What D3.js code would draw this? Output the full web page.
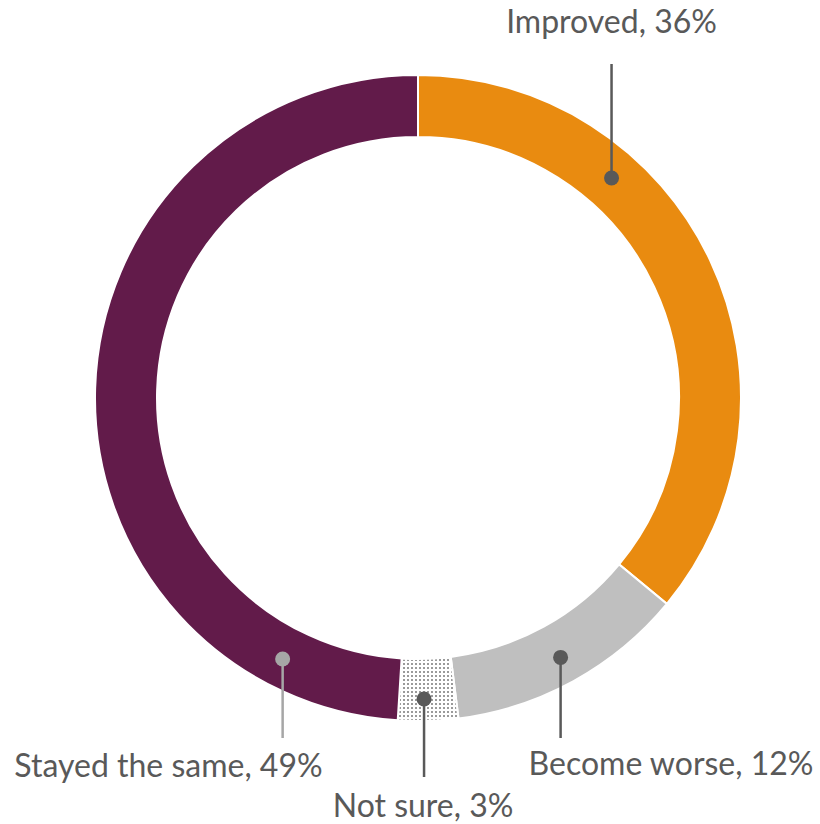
<!DOCTYPE html>
<html>
<head>
<meta charset="utf-8">
<script src="https://cdn.jsdelivr.net/npm/d3@7"></script>
<style>
  html, body { margin: 0; padding: 0; background: #ffffff; }
  svg { display: block; }
  text { font-family: Lato, "Open Sans", sans-serif; }
</style>
</head>
<body>
<svg id="chart" width="820" height="824"></svg>
<script>
// Survey answers, clockwise from 12 o'clock
const categories = ["Improved", "Become worse", "Not sure", "Stayed the same"];
const values = [36, 12, 3, 49];
const labels = ["Improved, 36%", "Become worse, 12%", "Not sure, 3%", "Stayed the same, 49%"];

// Styling and label layout
const fills = ["#e98b10", "#bfbfbf", "url(#dots)", "#621b4a"];
const leaderColors = ["#595959", "#595959", "#595959", "#a6a6a6"];
const anchorFrac = [0.319, 0.5, 0.56, 0.135];   // where along each slice the leader starts
const anchorRadius = [293, 296, 301, 294];
const leaderEndY = [64, 738, 777, 738];
const labelY = [33, 775, 817, 777];
const labelAnchor = ["middle", "start", "middle", "end"];
const labelDx = [0, -32, -1, 40];

const width = 820, height = 824;
const cx = 418, cy = 398;
const innerR = 261, outerR = 323;

const svg = d3.select("#chart");

const defs = svg.append("defs");
const pat = defs.append("pattern")
  .attr("id", "dots")
  .attr("patternUnits", "userSpaceOnUse")
  .attr("width", 4).attr("height", 4);
pat.append("rect").attr("width", 4).attr("height", 4).attr("fill", "#ffffff");
pat.append("rect").attr("x", 1).attr("y", 1).attr("width", 2).attr("height", 2).attr("fill", "#9a9a9a");

const data = categories.map((c, i) => ({ category: c, value: values[i], i }));

const pie = d3.pie().sort(null).value(d => d.value).startAngle(0).endAngle(2 * Math.PI);
const arcs = pie(data);

const arc = d3.arc().innerRadius(innerR).outerRadius(outerR);

const g = svg.append("g").attr("transform", `translate(${cx},${cy})`);

g.selectAll("path.slice")
  .data(arcs)
  .join("path")
  .attr("class", "slice")
  .attr("d", arc)
  .attr("fill", d => fills[d.data.i])
  .attr("stroke", "#ffffff")
  .attr("stroke-width", 2);

// Leader lines and dots
const anchors = arcs.map(d => {
  const i = d.data.i;
  const a = d.startAngle + (d.endAngle - d.startAngle) * anchorFrac[i];
  return { i, x: Math.sin(a) * anchorRadius[i], y: -Math.cos(a) * anchorRadius[i] };
});

g.selectAll("line.leader")
  .data(anchors)
  .join("line")
  .attr("class", "leader")
  .attr("x1", d => d.x).attr("y1", d => d.y)
  .attr("x2", d => d.x).attr("y2", d => leaderEndY[d.i] - cy)
  .attr("stroke", d => leaderColors[d.i])
  .attr("stroke-width", 2.5);

g.selectAll("circle.dot")
  .data(anchors)
  .join("circle")
  .attr("class", "dot")
  .attr("cx", d => d.x).attr("cy", d => d.y)
  .attr("r", 7.5)
  .attr("fill", d => leaderColors[d.i]);

g.selectAll("text.label")
  .data(anchors)
  .join("text")
  .attr("class", "label")
  .attr("x", d => d.x + labelDx[d.i])
  .attr("y", d => labelY[d.i] - cy)
  .attr("text-anchor", d => labelAnchor[d.i])
  .attr("font-size", 32)
  .attr("fill", "#595959")
  .text(d => labels[d.i]);
</script>
</body>
</html>
